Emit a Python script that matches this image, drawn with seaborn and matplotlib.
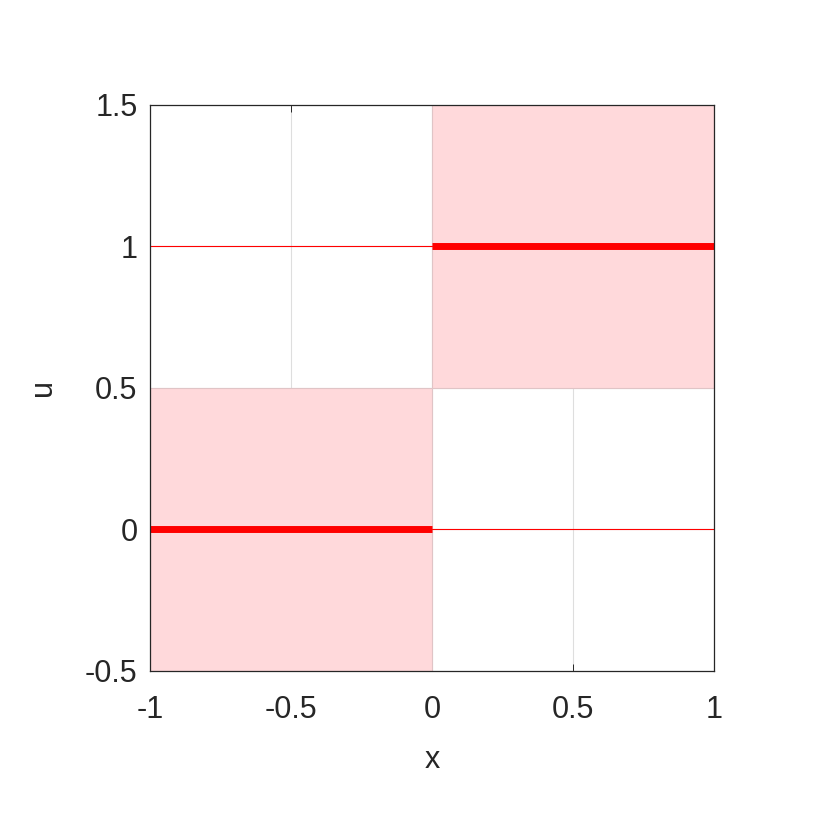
import matplotlib
matplotlib.use("Agg")
import matplotlib.pyplot as plt
import seaborn as sns
import pandas as pd

# piecewise constant solution u(x)
x_left = [-1, 0]
x_right = [0, 1]
u_vals = [0, 1]
u_other = [1, 0]  # faint level line on each cell
band = 0.5

sns.set_theme(style="white")
plt.rcParams['font.family'] = ['Liberation Sans', 'DejaVu Sans']

fig = plt.figure(figsize=(8.3, 8.3), dpi=100)
ax = fig.add_axes([0.1807, 0.1916, 0.6795, 0.6819])

for xl, xr, u in zip(x_left, x_right, u_vals):
    ax.fill_between([xl, xr], u - band, u + band, color="#ffd9db",
                    edgecolor="#e0c4c6", linewidth=0.8, zorder=1)

for xl, xr, u in zip(x_left, x_right, u_other):
    ax.plot([xl, xr], [u, u], color="red", linewidth=0.8, zorder=3)

rows = []
for i, (xl, xr, u) in enumerate(zip(x_left, x_right, u_vals)):
    rows.append({"x": xl, "u": u, "seg": i})
    rows.append({"x": xr, "u": u, "seg": i})
df = pd.DataFrame(rows)
sns.lineplot(data=df, x="x", y="u", units="seg", estimator=None,
             color="red", linewidth=5, ax=ax, zorder=4,
             solid_capstyle="butt")

ax.set_xlim(-1, 1)
ax.set_ylim(-0.5, 1.5)
ax.set_xticks([-1, -0.5, 0, 0.5, 1])
ax.set_xticklabels(["-1", "-0.5", "0", "0.5", "1"])
ax.set_yticks([-0.5, 0, 0.5, 1, 1.5])
ax.set_yticklabels(["-0.5", "0", "0.5", "1", "1.5"])
ax.grid(True, color="#dedede", linewidth=0.8, zorder=2)
for line in ax.get_xgridlines() + ax.get_ygridlines():
    line.set_zorder(2)

ax.tick_params(direction="in", length=5, width=0.7, colors="#262626",
               labelsize=22, top=True, right=True,
               bottom=True, left=True, labelcolor="#262626")
ax.tick_params(axis="x", pad=17)
ax.tick_params(axis="y", pad=9)
for s in ax.spines.values():
    s.set_color("#262626")
    s.set_linewidth(0.9)
    s.set_zorder(5)

ax.set_xlabel("x", fontsize=22, color="#262626", labelpad=15)
ax.set_ylabel("u", fontsize=22, color="#262626", labelpad=19)

fig.savefig("out.png", dpi=100, facecolor="white")
